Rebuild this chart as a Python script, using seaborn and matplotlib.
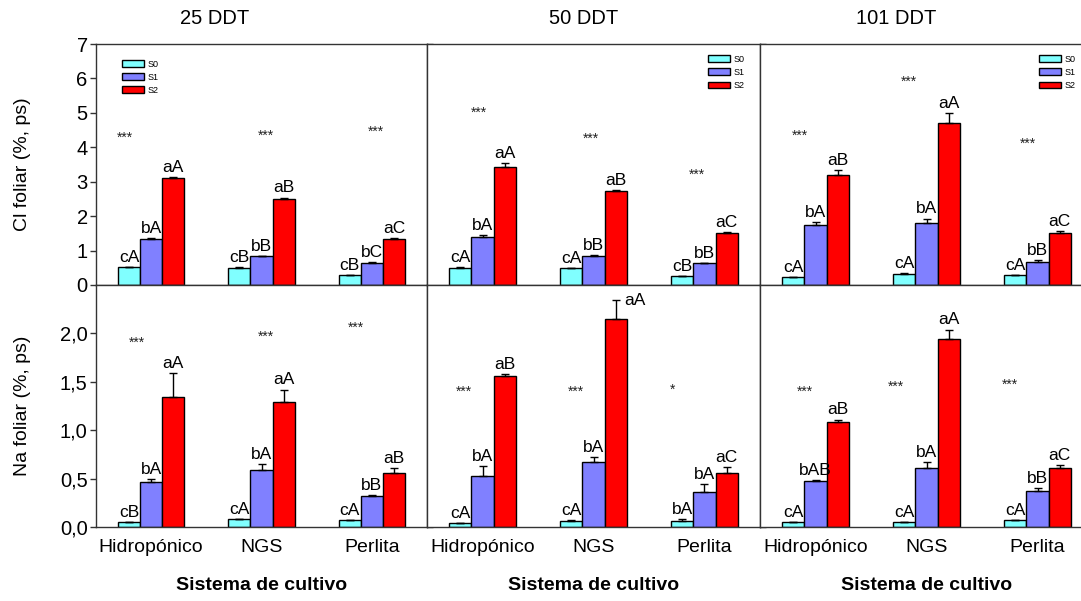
import numpy as np
import pandas as pd
import seaborn as sns
import matplotlib.pyplot as plt
from matplotlib.ticker import FuncFormatter

sns.set_style("ticks")
plt.rcParams['font.family'] = ['Liberation Sans', 'DejaVu Sans']
plt.rcParams['text.color'] = 'black'
plt.rcParams['axes.labelcolor'] = 'black'
plt.rcParams['xtick.labelcolor'] = 'black'
plt.rcParams['ytick.labelcolor'] = 'black'

# Categories
systems = ["Hidropónico", "NGS", "Perlita"]
salts = ["S0", "S1", "S2"]
days = ["25 DDT", "50 DDT", "101 DDT"]
colors = ["#80FFFF", "#8080FF", "#FF0000"]

# Cl foliar (%, ps): rows = S0, S1, S2 ; columns = Hidropónico, NGS, Perlita
cl_mean_25 = [[0.51, 0.50, 0.28], [1.33, 0.83, 0.64], [3.11, 2.51, 1.34]]
cl_err_25 = [[0.01, 0.01, 0.01], [0.03, 0.02, 0.02], [0.03, 0.03, 0.03]]
cl_mean_50 = [[0.50, 0.48, 0.25], [1.40, 0.84, 0.63], [3.42, 2.73, 1.51]]
cl_err_50 = [[0.01, 0.01, 0.01], [0.04, 0.02, 0.01], [0.13, 0.04, 0.02]]
cl_mean_101 = [[0.22, 0.31, 0.28], [1.74, 1.80, 0.68], [3.19, 4.71, 1.52]]
cl_err_101 = [[0.01, 0.03, 0.02], [0.08, 0.13, 0.05], [0.14, 0.28, 0.04]]

# Na foliar (%, ps)
na_mean_25 = [[0.05, 0.08, 0.07], [0.47, 0.59, 0.32], [1.34, 1.29, 0.56]]
na_err_25 = [[0.005, 0.005, 0.005], [0.03, 0.06, 0.01], [0.25, 0.13, 0.045]]
na_mean_50 = [[0.04, 0.06, 0.06], [0.53, 0.67, 0.36], [1.56, 2.15, 0.56]]
na_err_50 = [[0.005, 0.01, 0.02], [0.10, 0.05, 0.08], [0.02, 0.19, 0.06]]
na_mean_101 = [[0.05, 0.05, 0.07], [0.475, 0.61, 0.37], [1.08, 1.94, 0.61]]
na_err_101 = [[0.005, 0.005, 0.005], [0.01, 0.065, 0.03], [0.03, 0.10, 0.03]]

# Letters of mean separation
cl_let_25 = [["cA", "cB", "cB"], ["bA", "bB", "bC"], ["aA", "aB", "aC"]]
cl_let_50 = [["cA", "cA", "cB"], ["bA", "bB", "bB"], ["aA", "aB", "aC"]]
cl_let_101 = [["cA", "cA", "cA"], ["bA", "bA", "bB"], ["aB", "aA", "aC"]]
na_let_25 = [["cB", "cA", "cA"], ["bA", "bA", "bB"], ["aA", "aA", "aB"]]
na_let_50 = [["cA", "cA", "bA"], ["bA", "bA", "bA"], ["aB", "aA", "aC"]]
na_let_101 = [["cA", "cA", "cA"], ["bAB", "bA", "bB"], ["aB", "aA", "aC"]]

# Significance marks (text, x, y)
cl_star_25 = (["***", "***", "***"], [-0.24, 1.04, 2.04], [4.29, 4.32, 4.45])
cl_star_50 = (["***", "***", "***"], [-0.03, 0.98, 1.93], [5.0, 4.26, 3.19])
cl_star_101 = (["***", "***", "***"], [-0.14, 0.84, 1.91], [4.34, 5.89, 4.11])
na_star_25 = (["***", "***", "***"], [-0.13, 1.04, 1.86], [1.90, 1.97, 2.06])
na_star_50 = (["***", "***", "*"], [-0.17, 0.84, 1.71], [1.40, 1.40, 1.42])
na_star_101 = (["***", "***", "***"], [-0.10, 0.72, 1.75], [1.40, 1.45, 1.47])

W, H = 1081, 601
xedges = [96, 427, 760, 1093]
SPINE = "#333333"


def rect(x0, x1, y0, y1):
    return [x0 / W, 1 - y1 / H, (x1 - x0) / W, (y1 - y0) / H]


def draw_panel(ax, means, errs, letters, stars, ymax, legend_anchor):
    rows = []
    for i, sal in enumerate(salts):
        for j, sis in enumerate(systems):
            rows.append({"sistema": sis, "sal": sal, "valor": means[i][j]})
    df = pd.DataFrame(rows)
    sns.barplot(data=df, x="sistema", y="valor", hue="sal", order=systems,
                hue_order=salts, palette=colors, width=0.6, errorbar=None,
                edgecolor="black", linewidth=1, saturation=1, ax=ax,
                legend=legend_anchor is not None, zorder=2)
    bars = list(ax.containers)
    for i, cont in enumerate(bars):
        xs = [b.get_x() + b.get_width() / 2 for b in cont]
        hs = [b.get_height() for b in cont]
        ax.errorbar(xs, hs, yerr=[np.zeros(len(hs)), errs[i]], fmt="none",
                    ecolor="black", elinewidth=1, capsize=3, capthick=1, zorder=3)
        for x, h, e, lab in zip(xs, hs, errs[i], letters[i]):
            top = h + e
            if top > ymax * 0.88:
                # no room above the error bar: put the letters beside it
                ax.annotate(lab, (x, top), xytext=(6, 0), textcoords="offset points",
                            ha="left", va="center", fontsize=12.5)
            else:
                ax.annotate(lab, (x, top), xytext=(0, 1.5), textcoords="offset points",
                            ha="center", va="bottom", fontsize=12.5)
    for txt, sx, sy in zip(*stars):
        ax.text(sx, sy, txt, ha="center", va="center", fontsize=10, color="#222222")

    ax.set_xlim(-0.5, 2.5)
    ax.set_ylim(0, ymax)
    ax.set_xlabel("")
    ax.set_ylabel("")
    for s in ax.spines.values():
        s.set_visible(True)
        s.set_color(SPINE)
        s.set_linewidth(1)

    if legend_anchor is not None:
        handles, labels = ax.get_legend_handles_labels()
        ax.legend(handles, labels, loc="upper left", bbox_to_anchor=legend_anchor,
                  frameon=False, fontsize=6.5, handlelength=2.4, handleheight=0.75,
                  labelspacing=0.45, handletextpad=0.4, borderpad=0, borderaxespad=0)


fig = plt.figure(figsize=(W / 100, H / 100), dpi=100)

top_data = [(cl_mean_25, cl_err_25, cl_let_25, cl_star_25),
            (cl_mean_50, cl_err_50, cl_let_50, cl_star_50),
            (cl_mean_101, cl_err_101, cl_let_101, cl_star_101)]
bot_data = [(na_mean_25, na_err_25, na_let_25, na_star_25),
            (na_mean_50, na_err_50, na_let_50, na_star_50),
            (na_mean_101, na_err_101, na_let_101, na_star_101)]
legend_anchors = [(0.08, 0.935), (0.845, 0.955), (0.838, 0.955)]
title_x = [215, 584, 896]
comma = FuncFormatter(lambda v, p: f"{v:.1f}".replace(".", ","))

for k in range(3):
    x0, x1 = xedges[k], xedges[k + 1]
    ax_t = fig.add_axes(rect(x0, x1, 44, 285))
    ax_b = fig.add_axes(rect(x0, x1, 285, 527))

    m, e, l, s = top_data[k]
    draw_panel(ax_t, m, e, l, s, 7, legend_anchors[k])
    m, e, l, s = bot_data[k]
    draw_panel(ax_b, m, e, l, s, 2.5, None)

    ax_t.set_yticks(range(0, 8))
    ax_b.set_yticks([0, 0.5, 1.0, 1.5, 2.0])
    ax_b.yaxis.set_major_formatter(comma)

    for ax in (ax_t, ax_b):
        ax.tick_params(axis="y", direction="out", length=4, width=1, color=SPINE,
                       left=(k == 0), right=(k < 2), labelleft=(k == 0),
                       labelright=False, labelsize=14.5, pad=2)
    ax_t.tick_params(axis="x", length=0, labelbottom=False)
    ax_b.tick_params(axis="x", length=0, labelsize=14, pad=9)
    if k == 2:
        ax_t.spines["right"].set_visible(False)
        ax_b.spines["right"].set_visible(False)

    ax_b.set_xlabel("Sistema de cultivo", fontsize=14, fontweight="bold")
    ax_b.xaxis.set_label_coords(0.5, -0.205)

    fig.text(title_x[k] / W, 1 - 18 / H, days[k], ha="center", va="center", fontsize=14.5)

    if k == 0:
        ax_t.set_ylabel("Cl foliar (%, ps)", fontsize=14)
        ax_t.yaxis.set_label_coords(-0.195, 0.5)
        ax_b.set_ylabel("Na foliar (%, ps)", fontsize=14)
        ax_b.yaxis.set_label_coords(-0.195, 0.5)

fig.savefig("out.png", dpi=100)
